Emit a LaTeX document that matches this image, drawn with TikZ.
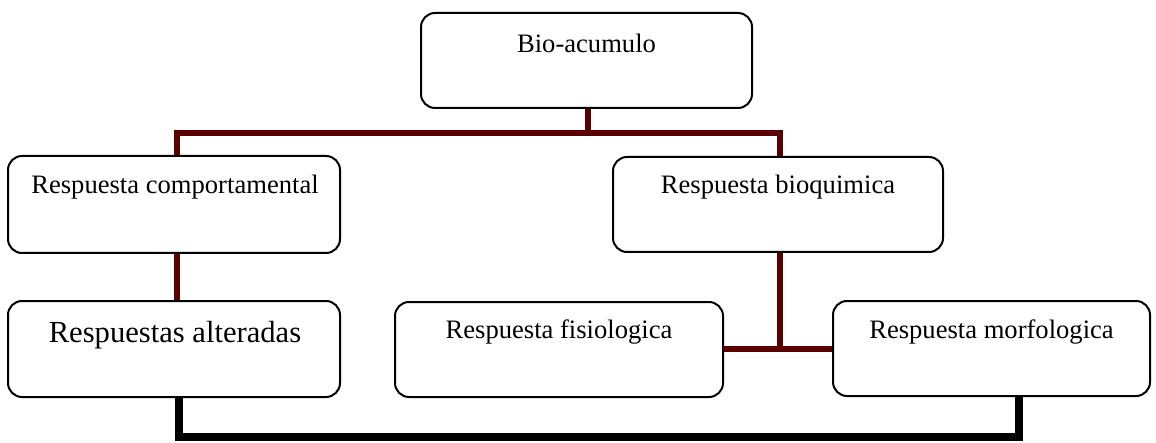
\documentclass[tikz,border=0pt]{standalone}
\usepackage{fontspec}
\setmainfont{Liberation Serif}
\definecolor{brownline}{RGB}{90,0,0}
\begin{document}
\begin{tikzpicture}[x=0.5pt,y=-0.5pt,
  box/.style={draw=black, line width=1pt, rounded corners=7pt, fill=white, inner sep=0pt},
  lbl/.style={inner sep=0pt, font=\fontsize{13.3}{16}\selectfont},
  biglbl/.style={inner sep=0pt, font=\fontsize{15.3}{18}\selectfont},
  brownconn/.style={draw=brownline, line width=3pt},
  blackconn/.style={draw=black, line width=4pt}]
\useasboundingbox (0,0) rectangle (1156,443);
% boxes
\node[box, minimum width=165.5pt, minimum height=47.5pt] (bio) at (586.5,60.5) {};
\node[box, minimum width=166pt, minimum height=48.5pt] (comp) at (174,204.5) {};
\node[box, minimum width=165pt, minimum height=47.5pt] (bioq) at (778,204.5) {};
\node[box, minimum width=166pt, minimum height=48pt] (alt) at (174,349) {};
\node[box, minimum width=164pt, minimum height=47.5pt] (fis) at (559,349.5) {};
\node[box, minimum width=158.5pt, minimum height=47.5pt] (morf) at (991.5,348.5) {};
% texts
\node[lbl] (bio-t) at (586.5,43) {Bio-acumulo};
\node[lbl] (comp-t) at (175,187) {Respuesta comportamental};
\node[lbl] (bioq-t) at (778,187) {Respuesta bioquimica};
\node[biglbl] (alt-t) at (175,335) {Respuestas alteradas};
\node[lbl] (fis-t) at (559,332) {Respuesta fisiologica};
\node[lbl] (morf-t) at (991.5,332) {Respuesta morfologica};
% connectors
\coordinate (top) at (588,133);
\draw[brownconn] (bio.south -| top) -- (top);
\draw[brownconn] (comp.north -| 177,0) |- (top) -| (bioq.north -| 780,0);
\draw[brownconn] (comp.south -| 177,0) -- (alt.north -| 177,0);
\coordinate (mid) at (780,349);
\draw[brownconn] (bioq.south -| mid) -- (mid);
\draw[brownconn] (fis.east |- mid) -- (morf.west |- mid);
\draw[blackconn] (alt.south -| 179,0) |- (1019,437) -- (morf.south -| 1019,0);
\end{tikzpicture}
\end{document}
